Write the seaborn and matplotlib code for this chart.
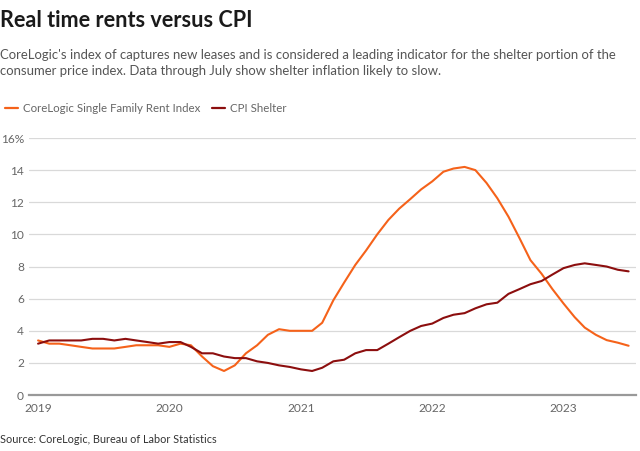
import pandas as pd
import numpy as np
import matplotlib
matplotlib.use("Agg")
import matplotlib.pyplot as plt
import matplotlib.dates as mdates
import seaborn as sns
from matplotlib.lines import Line2D

# ---- data (monthly, Jan 2019 .. Jul 2023) ----
months = pd.date_range("2019-01-01", "2023-07-01", freq="MS")
corelogic = [3.4, 3.2, 3.2, 3.1, 3.0, 2.9, 2.9, 2.9, 3.0, 3.1, 3.1, 3.1,
             3.0, 3.2, 3.1, 2.4, 1.8, 1.5, 1.85, 2.6, 3.1, 3.75, 4.1, 4.0,
             4.0, 4.0, 4.5, 5.9, 7.0, 8.1, 9.0, 10.0, 10.9, 11.6, 12.2, 12.8,
             13.3, 13.9, 14.1, 14.2, 14.0, 13.2, 12.25, 11.1, 9.75, 8.4, 7.55, 6.6,
             5.7, 4.85, 4.2, 3.75, 3.42, 3.26, 3.07]
cpi_shelter = [3.2, 3.4, 3.4, 3.4, 3.4, 3.5, 3.5, 3.4, 3.5, 3.4, 3.3, 3.2,
               3.3, 3.3, 3.0, 2.6, 2.6, 2.4, 2.3, 2.3, 2.1, 2.0, 1.85, 1.75,
               1.6, 1.5, 1.7, 2.1, 2.2, 2.6, 2.8, 2.8, 3.2, 3.6, 4.0, 4.3,
               4.45, 4.8, 5.0, 5.1, 5.4, 5.65, 5.75, 6.3, 6.6, 6.9, 7.1, 7.5,
               7.9, 8.1, 8.2, 8.1, 8.0, 7.8, 7.7]
series_names = ["CoreLogic Single Family Rent Index", "CPI Shelter"]
colors = ["#f5621a", "#8c0e0e"]
year_ticks = ["2019", "2020", "2021", "2022", "2023"]
y_ticks = [0, 2, 4, 6, 8, 10, 12, 14, 16]

df = pd.concat([
    pd.DataFrame({"date": months, "value": corelogic, "series": series_names[0]}),
    pd.DataFrame({"date": months, "value": cpi_shelter, "series": series_names[1]}),
])

sns.set_theme(style="white")
plt.rcParams["font.family"] = ["Lato", "DejaVu Sans"]

fig = plt.figure(figsize=(6.4, 4.51), dpi=100)
ax = fig.add_axes([0.046, 0.124, 0.948, 0.570])

sns.lineplot(data=df, x="date", y="value", hue="series", palette=colors,
             hue_order=series_names, linewidth=1.5, ax=ax, legend=False)

ax.set_ylim(0, 16)
ax.set_xlim(pd.Timestamp("2018-12-08"), pd.Timestamp("2023-07-22"))
ax.set_yticks(y_ticks)
ax.set_yticklabels([f"{v}%" if v == 16 else str(v) for v in y_ticks])
ax.set_xticks([pd.Timestamp(f"{y}-01-01") for y in year_ticks])
ax.set_xticklabels(year_ticks)
ax.set_xlabel("")
ax.set_ylabel("")
ax.grid(axis="y", color="#d9d9d9", linewidth=0.9)
ax.grid(axis="x", visible=False)
ax.set_axisbelow(True)
for s in ["top", "right", "left"]:
    ax.spines[s].set_visible(False)
ax.spines["bottom"].set_color("#999999")
ax.spines["bottom"].set_linewidth(1.6)
ax.tick_params(axis="both", length=0, colors="#666666", labelsize=8.6)
ax.tick_params(axis="y", pad=4)
ax.tick_params(axis="x", pad=6)
for lbl in ax.get_yticklabels():
    lbl.set_horizontalalignment("right")

fig.text(0.0, 0.955, "Real time rents versus CPI", fontsize=15.6, fontweight="bold",
         color="#1a1a1a", va="center", ha="left")
fig.text(0.0, 0.86, "CoreLogic's index of captures new leases and is considered a leading indicator for the shelter portion of the\n"
         "consumer price index. Data through July show shelter inflation likely to slow.",
         fontsize=9.45, color="#555555", va="center", ha="left", linespacing=1.45)

handles = [Line2D([0], [0], color=c, lw=1.6) for c in colors]
fig.legend(handles, series_names, loc="center left", bbox_to_anchor=(-0.008, 0.76),
           ncol=2, frameon=False, fontsize=8.3, handlelength=1.1, handletextpad=0.45,
           columnspacing=1.0, labelcolor="#666666")

fig.text(0.0, 0.025, "Source: CoreLogic, Bureau of Labor Statistics", fontsize=7.8,
         color="#333333", va="center", ha="left")

fig.savefig("out.png", dpi=100, facecolor="white")
